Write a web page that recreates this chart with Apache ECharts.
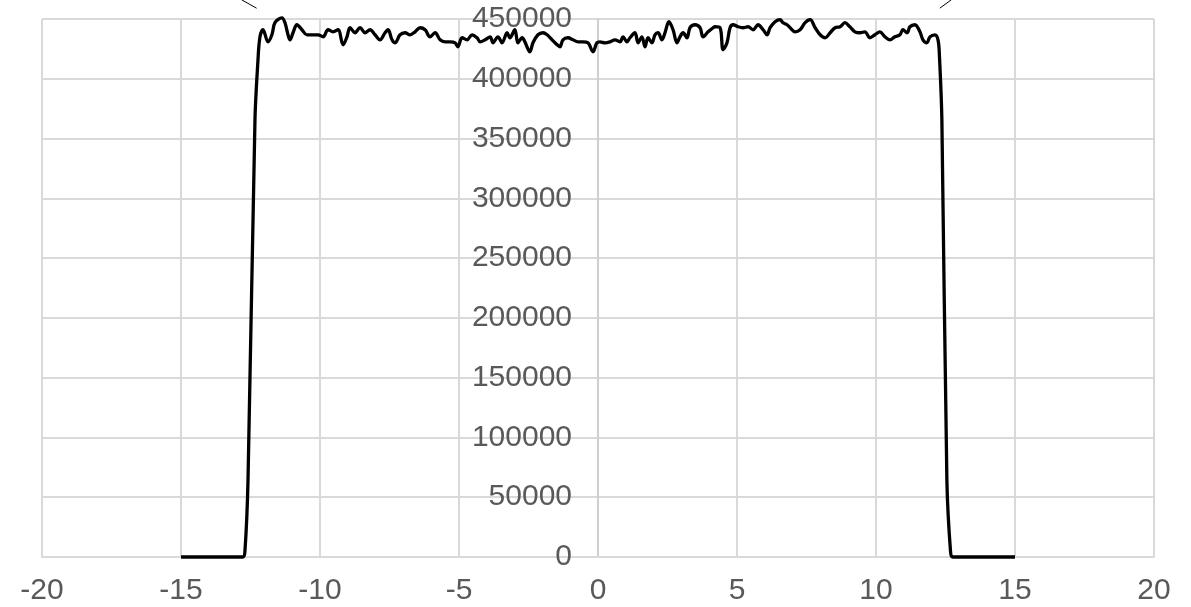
<!DOCTYPE html>
<html>
<head>
<meta charset="utf-8">
<script src="https://cdn.jsdelivr.net/npm/echarts@6/dist/echarts.min.js"></script>
<style>
html,body{margin:0;padding:0;background:#fff;}
#chart{width:1191px;height:607px;}
</style>
</head>
<body>
<div id="chart"></div>
<script>
// x positions of the sampled profile
const xValues = [
  -15, -12.78, -12.70, -12.59, -12.34, -12.23, -12.16, -12.05, -11.87, -11.73,
  -11.62, -11.37, -11.26, -11.15, -11.08, -10.97, -10.83, -10.65, -10.47, -10.29,
  -10.07, -9.89, -9.71, -9.53, -9.35, -9.17, -9.03, -8.92, -8.74, -8.56,
  -8.38, -8.20, -8.02, -7.84, -7.66, -7.55, -7.41, -7.30, -7.12, -6.94,
  -6.76, -6.58, -6.40, -6.22, -6.04, -5.86, -5.68, -5.50, -5.32, -5.14,
  -5.04, -4.89, -4.71, -4.53, -4.35, -4.24, -4.06, -3.88, -3.78, -3.60,
  -3.45, -3.27, -3.17, -2.99, -2.88, -2.73, -2.63, -2.45, -2.34, -2.16,
  -1.98, -1.83, -1.65, -1.47, -1.37, -1.26, -1.08, -0.90, -0.72, -0.54,
  -0.36, -0.18, -0.04, 0.07, 0.25, 0.43, 0.61, 0.79, 0.90, 1.04,
  1.15, 1.33, 1.44, 1.58, 1.69, 1.80, 1.94, 2.05, 2.16, 2.30,
  2.41, 2.55, 2.70, 2.84, 2.95, 3.06, 3.20, 3.31, 3.49, 3.67,
  3.78, 3.96, 4.14, 4.21, 4.39, 4.50, 4.64, 4.75, 4.86, 5.04,
  5.22, 5.40, 5.58, 5.76, 5.94, 6.08, 6.19, 6.37, 6.55, 6.65,
  6.80, 6.91, 7.09, 7.27, 7.45, 7.63, 7.81, 7.99, 8.17, 8.35,
  8.53, 8.71, 8.88, 9.06, 9.24, 9.42, 9.60, 9.78, 9.96, 10.14,
  10.32, 10.50, 10.68, 10.86, 10.97, 11.12, 11.22, 11.40, 11.58, 11.69,
  11.83, 11.94, 12.12, 12.23, 12.28, 12.37, 12.55, 12.68, 12.76, 15
];
// measured values (counts), one per x position above
const yValues = [
  0, 0, 5000, 64000, 365000, 416000, 435000, 441000, 430900, 436800,
  446900, 451000, 446900, 436800, 432600, 438500, 445200, 441000, 436800, 436800,
  436800, 435100, 441000, 439300, 441000, 428400, 435100, 442700, 438500, 442700,
  438500, 441000, 436800, 432600, 438500, 441000, 432600, 430100, 436800, 438500,
  436800, 439300, 442700, 441000, 435100, 438500, 432600, 430900, 430900, 430100,
  426800, 434300, 432600, 436800, 434300, 430900, 432600, 435100, 430100, 435100,
  430100, 438500, 434300, 441000, 430100, 434300, 430900, 422600, 430100, 436800,
  438500, 436800, 432600, 428400, 426800, 432600, 434300, 432600, 430900, 430900,
  430100, 422600, 430100, 430900, 430100, 430900, 432600, 430900, 435100, 430900,
  434300, 438500, 430100, 435100, 426800, 434300, 430100, 436800, 438500, 432600,
  438500, 447700, 441000, 430100, 435100, 438500, 434300, 442700, 445200, 442700,
  435100, 439300, 442700, 443500, 442700, 424300, 430100, 442700, 445200, 443500,
  442700, 443500, 441000, 445200, 441000, 436800, 442700, 447700, 449400, 446900,
  445200, 442700, 439300, 441000, 446900, 449400, 442700, 436800, 434300, 438500,
  442700, 443500, 446900, 443500, 439300, 438500, 439300, 434300, 436800, 439300,
  435100, 432600, 435100, 436800, 441000, 438500, 443500, 445200, 439300, 432600,
  430100, 435100, 436800, 432600, 420000, 365000, 64000, 5000, 0, 0
];
// short leader lines entering from above the plot (edges of the beam)
const leaderLeft = [[-12.82, 466100], [-12.28, 459000]];
const leaderRight = [[12.71, 466100], [12.30, 459100]];

const xMin = -20, xMax = 20, xStep = 5;
const yMin = 0, yMax = 450000, yStep = 50000;
const yAxisCrossAt = 0;

const data = xValues.map((x, i) => [x, yValues[i]]);

const chart = echarts.init(document.getElementById('chart'), null, {renderer: 'canvas'});
const labelFont = {fontFamily: '"Liberation Sans", Arial, sans-serif', fontSize: 30, color: '#595959'};
const leaderSeries = d => ({
  type: 'line', data: d, showSymbol: false, clip: false, silent: true,
  lineStyle: {color: '#000000', width: 1}, z: 6
});
const option = {
  animation: false,
  backgroundColor: '#ffffff',
  grid: {left: 42, right: 37, top: 19, bottom: 50, containLabel: false, outerBoundsMode: 'none'},
  xAxis: {
    type: 'value', min: xMin, max: xMax, interval: xStep,
    axisLine: {show: true, onZero: false, lineStyle: {color: '#d9d9d9', width: 2}},
    axisTick: {show: false},
    splitLine: {show: true, lineStyle: {color: '#d9d9d9', width: 2}},
    axisLabel: Object.assign({margin: 19, formatter: v => String(v)}, labelFont)
  },
  yAxis: {
    type: 'value', min: yMin, max: yMax, interval: yStep,
    position: 'left', offset: 0,
    axisLine: {show: true, onZero: false, lineStyle: {color: '#cfcfcf', width: 2}},
    axisTick: {show: false},
    splitLine: {show: true, lineStyle: {color: '#d9d9d9', width: 2}},
    axisLabel: Object.assign({margin: 26, formatter: v => String(v)}, labelFont)
  },
  series: [{
    type: 'line',
    data: data,
    showSymbol: false,
    smooth: 0.35,
    clip: false,
    lineStyle: {color: '#000000', width: 3.3},
    z: 5
  }, leaderSeries(leaderLeft), leaderSeries(leaderRight)]
};
chart.setOption(option);
// move the y axis so it crosses the x axis at x = 0 (like Excel)
const pxCross = chart.convertToPixel({xAxisIndex: 0}, yAxisCrossAt);
const pxLeft = chart.convertToPixel({xAxisIndex: 0}, xMin);
chart.setOption({yAxis: {offset: -(pxCross - pxLeft)}});
</script>
</body>
</html>
